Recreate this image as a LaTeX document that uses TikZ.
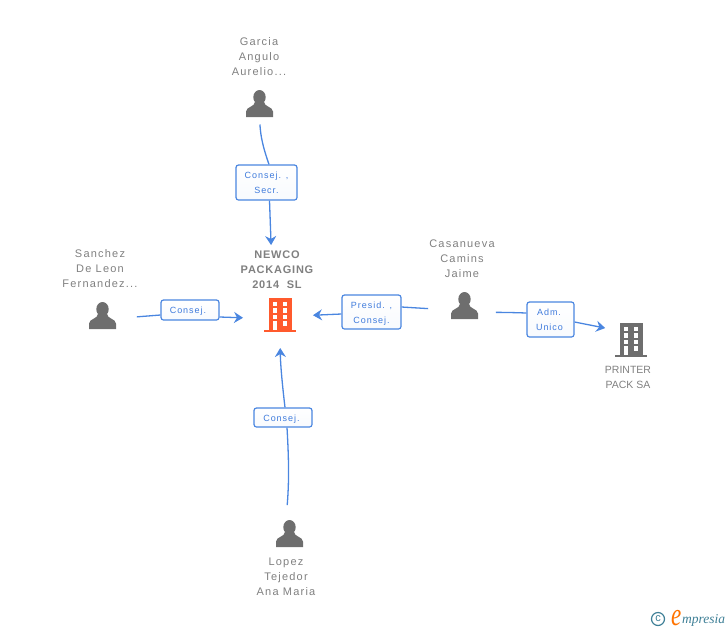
\documentclass[tikz,border=0pt]{standalone}
\usepackage{fontspec}
\usepackage{graphicx}
\usepackage{tikz}
\usetikzlibrary{arrows.meta}
\setmainfont{Liberation Sans}
\newfontfamily\namefont[LetterSpace=11]{Liberation Sans}
\newfontfamily\companyfont[LetterSpace=7]{Liberation Sans}
\newfontfamily\logofont{Liberation Serif}
\definecolor{linkblue}{HTML}{4A86E0}
\definecolor{labelblue}{HTML}{3F7BDC}
\definecolor{icongrey}{HTML}{6E6E6E}
\definecolor{textgrey}{HTML}{808080}
\definecolor{neworange}{HTML}{FF5A2D}
\definecolor{logoteal}{HTML}{3E7F96}
\newcommand{\roleline}[1]{\raisebox{-1pt}[7pt][2pt]{#1}}
\tikzset{
    personname/.style={text=textgrey, align=center, inner sep=0pt, font=\namefont\fontsize{11}{15}\selectfont},
    company/.style={text=textgrey, align=center, inner sep=0pt, font=\companyfont\bfseries\fontsize{11}{15}\selectfont},
    plaincompany/.style={text=textgrey, align=center, inner sep=0pt, font=\fontsize{10.5}{15}\selectfont},
    role/.style={draw=linkblue, line width=1.2pt, rounded corners=2.5pt, top color=white, bottom color=white!96!linkblue, text=labelblue, align=center, inner sep=0pt, font=\namefont\fontsize{9}{15}\selectfont},
    iconbox/.style={minimum size=27pt, inner sep=0pt, outer sep=0pt},
    link/.style={draw=linkblue, line width=1.3pt},
    linkarrow/.style={link, -{Stealth[length=9pt, width=11pt, inset=3pt]}},
    pics/person/.style={code={
        \fill[icongrey] (0, -6.3) ellipse (6.2 and 7.2);
        \fill[icongrey] (-13.5, 13.5) -- (-13.5, 8) .. controls (-13, 3) and (-5, 3.5) .. (-4.5, -1.5) -- (4.5, -1.5) .. controls (5, 3.5) and (13, 3) .. (13.5, 8) -- (13.5, 13.5) -- cycle;
    }},
    pics/building/.style={code={
        \fill[#1] (-11.5, -17) rectangle (11.5, 15);
        \fill[#1] (-16, 14.5) rectangle (16, 17);
        \foreach \wy in {-13.2, -6.6, 0} {
            \fill[white] (-7.4, \wy) rectangle (-2.6, \wy + 4.2);
            \fill[white] (2.6, \wy) rectangle (7.4, \wy + 4.2);
        }
        \fill[white] (2.6, 6.4) rectangle (7.4, 10.6);
        \fill[white] (-7.4, 6.4) rectangle (-2.6, 14.5);
    }},
}
\begin{document}
\begin{tikzpicture}[x=1pt, y=-1pt]
        \useasboundingbox (0, 0) rectangle (728, 630);
        \node[personname] (garcianame) at (259, 57) {Garcia\\Angulo\\Aurelio...};
        \node[personname] (sanchezname) at (100, 269) {Sanchez\\De Leon\\Fernandez...};
        \node[personname] (casanuevaname) at (462, 259) {Casanueva\\Camins\\Jaime};
        \node[personname] (lopezname) at (286, 577) {Lopez\\Tejedor\\Ana Maria};
        \node[company] (newconame) at (277, 270) {NEWCO\\PACKAGING\\2014\ \ SL};
        \node[plaincompany] (printername) at (628, 377.5) {PRINTER\\PACK SA};
        \node[iconbox] (garcia) at (259.5, 103.5) {};
        \node[iconbox] (sanchez) at (102.5, 315.5) {};
        \node[iconbox] (casanueva) at (464.5, 305.5) {};
        \node[iconbox] (lopez) at (289.5, 533.5) {};
        \node[iconbox, minimum width=32pt, minimum height=34pt] (newco) at (280, 315) {};
        \node[iconbox, minimum width=32pt, minimum height=34pt] (printer) at (631, 340) {};
        \foreach \who in {garcia, sanchez, casanueva, lopez}
            \pic at (\who) {person};
        \pic at (newco) {building=neworange};
        \pic at (printer) {building=icongrey};
        \node[role, minimum width=61pt, minimum height=35pt] (garciarole) at (266.5, 182.5) {\roleline{Consej. ,}\\\roleline{Secr.}};
        \node[role, minimum width=58pt, minimum height=20pt] (sanchezrole) at (190, 310) {\roleline{Consej.}\hspace*{4pt}};
        \node[role, minimum width=59pt, minimum height=34pt] (presidrole) at (371.5, 312) {\roleline{Presid. ,}\\\roleline{Consej.}};
        \node[role, minimum width=47pt, minimum height=35pt] (admrole) at (550.5, 319.5) {\roleline{Adm.}\hspace*{3pt}\\\roleline{Unico}\hspace*{2pt}};
        \node[role, minimum width=58pt, minimum height=19pt] (lopezrole) at (283, 417.5) {\roleline{Consej.}\hspace*{3pt}};
        \draw[link, shorten <=7.5pt] (garcia.south) to[bend right=8] ([xshift=2.5pt]garciarole.north);
        \draw[linkarrow, shorten >=53pt] ([xshift=3pt]garciarole.south) -- ([xshift=-7pt]newco.north);
        \draw[link, shorten <=21pt] ([yshift=-3pt]sanchez.east) -- ([yshift=-5pt]sanchezrole.west);
        \draw[linkarrow, shorten >=21pt] ([yshift=-7pt]sanchezrole.east) -- ([yshift=-3.5pt]newco.west);
        \draw[link, shorten <=23pt] ([yshift=-4.5pt]casanueva.west) -- ([yshift=5pt]presidrole.east);
        \draw[linkarrow, shorten >=17pt] ([yshift=-2pt]presidrole.west) -- ([yshift=-1pt]newco.east);
        \draw[link, shorten <=18pt] ([yshift=-7.5pt]casanueva.east) to[bend left=2] ([yshift=6.5pt]admrole.west);
        \draw[linkarrow, shorten >=10pt] ([yshift=-2.5pt]admrole.east) -- ([yshift=10pt]printer.west);
        \draw[link, shorten <=15pt] ([xshift=-3.5pt]lopez.north) to[bend right=4] ([xshift=4pt]lopezrole.south);
        \draw[linkarrow, shorten >=16pt] ([xshift=2pt]lopezrole.north) to[bend left=3] (newco.south);
        \node[circle, draw=logoteal, line width=1.2pt, inner sep=0pt, minimum size=13pt, text=logoteal, font=\fontsize{11}{11}\selectfont] (copyright) at (658, 619) {c};
        \node[anchor=base west, inner sep=0pt, text=orange!90!red, font=\logofont\itshape\fontsize{23}{23}\selectfont] (logoe) at (671, 625) {\scalebox{1}[1.4]{e}};
        \node[anchor=base west, inner sep=0pt, text=logoteal, font=\logofont\itshape\fontsize{13.5}{13.5}\selectfont] (logotext) at (682, 623) {mpresia};
    \end{tikzpicture}
\end{document}
